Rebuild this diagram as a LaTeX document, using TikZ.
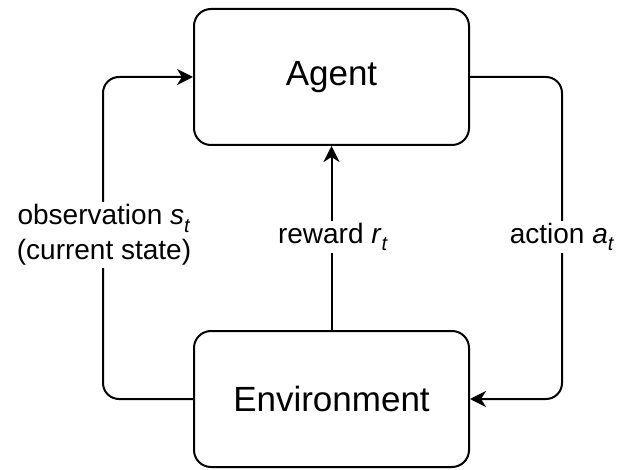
\documentclass[tikz,border=0pt]{standalone}
\usepackage{fontspec}
\setmainfont{Liberation Sans}
\usetikzlibrary{arrows.meta}
% italic subscript, set a little lower and larger than \textsubscript
\newcommand{\isub}[2]{\textit{#1}\raisebox{-0.28em}{\fontsize{20}{20}\selectfont\textit{#2}}}
\begin{document}
\begin{tikzpicture}[x=1pt,y=-1pt,
  box/.style={draw, line width=2pt, rounded corners=17pt,
    minimum width=275pt, minimum height=136pt, inner sep=0pt,
    font=\fontsize{35}{42}\selectfont},
  conn/.style={line width=2pt, rounded corners=16pt,
    -{Stealth[length=16pt,width=16pt,inset=5pt]}},
  lbl/.style={fill=white, align=center, inner sep=2pt,
    font=\fontsize{28}{35}\selectfont}]
\useasboundingbox (0,0) rectangle (621,470);
% the two blocks
\node[box] (agent) at (331.5,77) {Agent};
\node[box] (env) at (331.5,399) {Environment};
% feedback loops
\draw[conn] (env.west) -- ++(-90,0) |- (agent.west);
\draw[conn] (agent.east) -- ++(92,0) |- (env.east);
\draw[conn] (env.north) -- (agent.south);
% labels over the connectors
\node[lbl] (obs) at (104,235) {observation \isub{s}{t}\\(current state)};
\node[lbl] (rew) at (333,237) {reward \isub{r}{t}};
\node[lbl] (act) at (562,237) {action \isub{a}{t}};
\end{tikzpicture}
\end{document}
